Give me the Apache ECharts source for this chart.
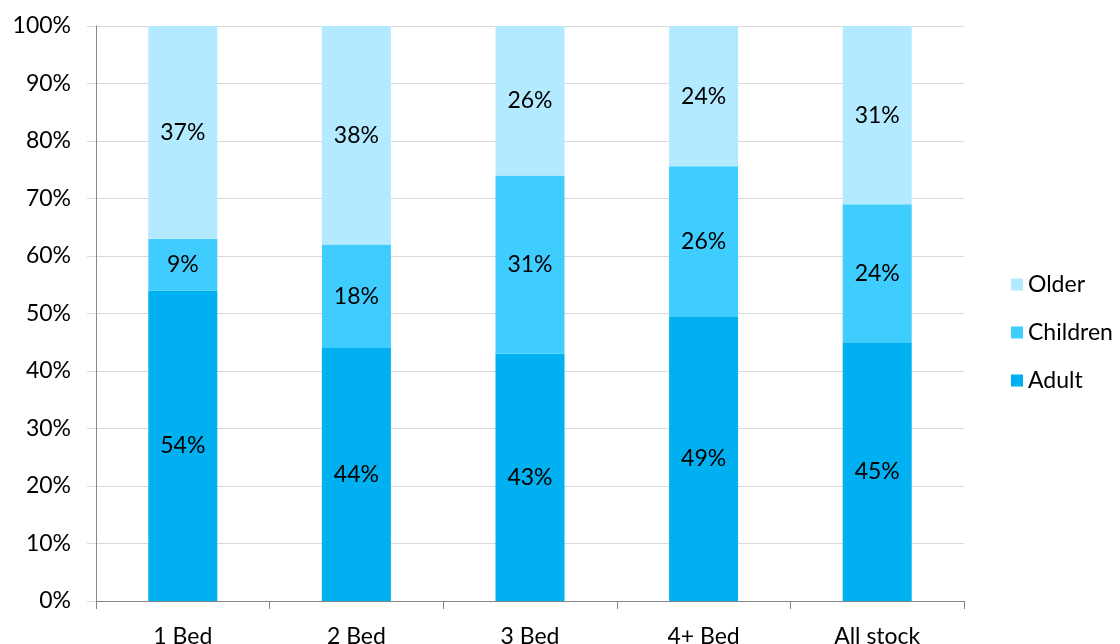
<!DOCTYPE html>
<html>
<head>
<meta charset="utf-8">
<script src="https://cdn.jsdelivr.net/npm/echarts@6/dist/echarts.min.js"></script>
<style>
  html, body { margin: 0; padding: 0; background: #fff; }
  #chart { width: 1120px; height: 644px; }
</style>
</head>
<body>
<div id="chart"></div>
<script>
const categories = ['1 Bed', '2 Bed', '3 Bed', '4+ Bed', 'All stock'];
const adult = [54, 44, 43, 49.4, 45];
const children = [9, 18, 31, 26.2, 24];
const older = [37, 38, 26, 24.4, 31];

const fontFamily = 'Lato, "Open Sans", sans-serif';
const chart = echarts.init(document.getElementById('chart'));

const labelStyle = {
  show: true,
  position: 'inside',
  color: '#000',
  fontSize: 23,
  fontFamily: fontFamily,
  formatter: (p) => Math.round(p.value) + '%'
};

const option = {
  animation: false,
  textStyle: { fontFamily: fontFamily },
  grid: { left: 96, right: 156, top: 26, bottom: 43, outerBoundsMode: 'none' },
  legend: {
    orient: 'vertical',
    left: 1006,
    top: 268,
    itemWidth: 12,
    itemHeight: 12,
    itemGap: 25,
    icon: 'rect',
    data: ['Older', 'Children', 'Adult'],
    textStyle: { fontSize: 23, color: '#000', fontFamily: fontFamily }
  },
  xAxis: {
    type: 'category',
    data: categories,
    axisLine: { lineStyle: { color: '#868686' } },
    axisTick: { show: true, length: 8, lineStyle: { color: '#868686' } },
    axisLabel: { color: '#000', fontSize: 23, margin: 24, fontFamily: fontFamily }
  },
  yAxis: {
    type: 'value',
    min: 0,
    max: 100,
    interval: 10,
    axisLine: { show: true, lineStyle: { color: '#868686' } },
    axisTick: { show: true, length: 9, lineStyle: { color: '#d9d9d9' } },
    splitLine: { lineStyle: { color: '#d9d9d9' } },
    axisLabel: { color: '#000', fontSize: 23, margin: 25, formatter: '{value}%', fontFamily: fontFamily }
  },
  series: [
    {
      name: 'Adult', type: 'bar', stack: 'total', barWidth: 69,
      itemStyle: { color: '#00B0F0' }, label: labelStyle, data: adult
    },
    {
      name: 'Children', type: 'bar', stack: 'total', barWidth: 69,
      itemStyle: { color: '#3FCDFF' }, label: labelStyle, data: children
    },
    {
      name: 'Older', type: 'bar', stack: 'total', barWidth: 69,
      itemStyle: { color: '#B3EAFF' }, label: labelStyle, data: older
    }
  ]
};

chart.setOption(option);
</script>
</body>
</html>
